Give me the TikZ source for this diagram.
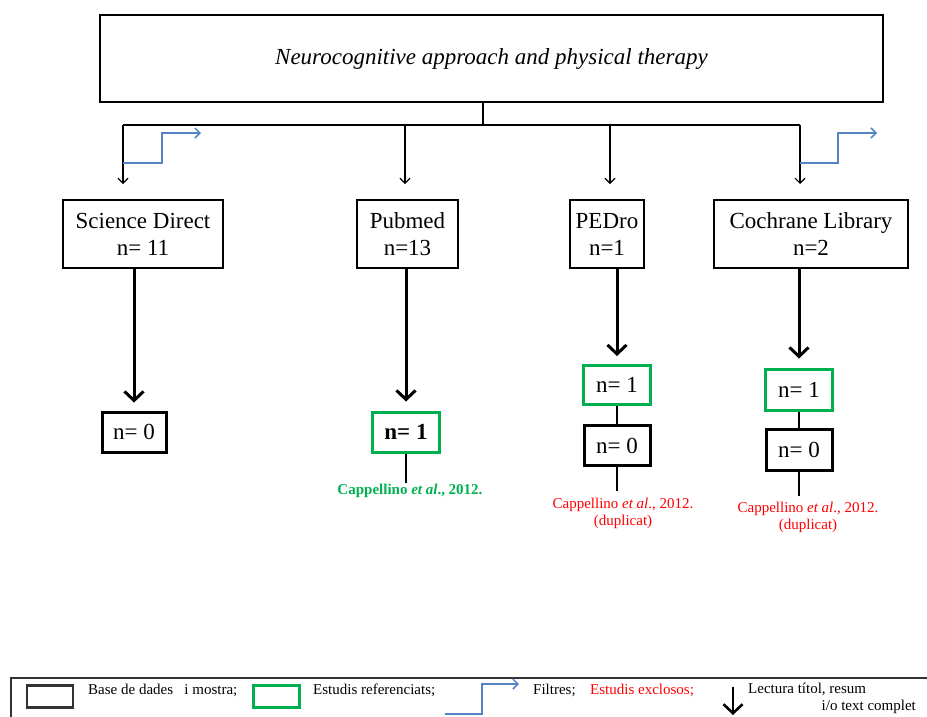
\documentclass[tikz,border=0pt]{standalone}
\usepackage{fontspec}
\setmainfont{Liberation Serif}
\usetikzlibrary{arrows.meta,positioning}

\definecolor{keptgreen}{RGB}{0,176,80}
\definecolor{filterblue}{RGB}{84,132,196}

\begin{document}
\begin{tikzpicture}[x=1pt, y=-1pt, auto,
    dbbox/.style={draw, line width=1.6pt, align=center, inner sep=0pt, minimum height=68pt, font=\fontsize{23}{27}\selectfont},
    keptbox/.style={draw=keptgreen, line width=3pt, inner sep=0pt, minimum width=67pt, minimum height=39pt, font=\fontsize{23}{27}\selectfont},
    nilbox/.style={draw, line width=3pt, inner sep=0pt, minimum width=66pt, minimum height=40pt, font=\fontsize{23}{27}\selectfont},
    search/.style={line width=1.1pt, -{Straight Barb[length=5pt,width=10pt]}},
    reading/.style={line width=3pt, -{Straight Barb[length=9pt,width=19pt]}},
    filter/.style={filterblue, line width=1.5pt, -{Straight Barb[length=5pt,width=10pt]}},
    tail/.style={line width=1.3pt},
    cite/.style={align=center, inner sep=1pt, font=\fontsize{15}{17}\selectfont},
    keytext/.style={anchor=west, inner sep=0pt, font=\fontsize{15}{17}\selectfont}]
    \useasboundingbox (0,0) rectangle (927,716);

    % Nodes
    \node[draw, line width=1.6pt, minimum width=783pt, minimum height=87pt, font=\fontsize{23}{27}\selectfont\itshape] (topic) at (491.5,58.5) {Neurocognitive approach and physical therapy};

    \node[dbbox, minimum width=160pt] (sciencedirect) at (143,234) {Science Direct\\n= 11};
    \node[dbbox, minimum width=101pt] (pubmed) at (407.5,234) {Pubmed\\n=13};
    \node[dbbox, minimum width=74pt] (pedro) at (607,234) {PEDro\\n=1};
    \node[dbbox, minimum width=194pt] (cochrane) at (811,234) {Cochrane Library\\n=2};

    \node[nilbox, minimum width=64pt] (sdzero) at (134,432) {n= 0};
    \node[keptbox, minimum height=40pt, font=\fontsize{23}{27}\selectfont\bfseries] (pubkept) at (406,432) {n= 1};
    \node[keptbox] (pedrokept) at (617,385) {n= 1};
    \node[nilbox] (pedrozero) at (617,445.5) {n= 0};
    \node[keptbox, minimum height=41pt] (cochranekept) at (799,389.5) {n= 1};
    \node[nilbox, minimum height=41pt] (cochranezero) at (799,449.5) {n= 0};

    % Labels
    \node[cite, keptgreen, font=\fontsize{15}{17}\selectfont\bfseries] (pubcite) at (410,491) {Cappellino \textit{et al}., 2012.};
    \node[cite, red] (pedrocite) at (623,513) {Cappellino \textit{et al}., 2012.\\(duplicat)};
    \node[cite, red] (cochranecite) at (808,517) {Cappellino \textit{et al}., 2012.\\(duplicat)};

    % Search tree
    \coordinate (split) at (483,125);
    \coordinate (sdtop) at (123,125);
    \coordinate (pubtop) at (405,125);
    \coordinate (pedrotop) at (610,125);
    \coordinate (cochranetop) at (800,125);
    \draw[line width=1.1pt] (topic.south -| split) -- (split);
    \draw[line width=1.1pt] (sdtop) -- (cochranetop);
    \draw[search] (sdtop) -- ++(0,59);
    \draw[search] (pubtop) -- ++(0,59);
    \draw[search] (pedrotop) -- ++(0,59);
    \draw[search] (cochranetop) -- ++(0,59);

    % Filters
    \coordinate (sdfilter) at (123,163);
    \coordinate (sdout) at (201,133);
    \coordinate (cochranefilter) at (800,163);
    \coordinate (cochraneout) at (877,133);
    \draw[filter] (sdfilter) -- ++(39,0) |- (sdout);
    \draw[filter] (cochranefilter) -- ++(38,0) |- (cochraneout);

    % Reading arrows
    \draw[reading, shorten >=8pt] (sciencedirect.south -| sdzero.north) -- (sdzero.north);
    \draw[reading, shorten >=9pt] (pubmed.south -| pubkept.north) -- (pubkept.north);
    \draw[reading, shorten >=8pt] (pedro.south -| pedrokept.north) -- (pedrokept.north);
    \draw[reading, shorten >=9pt] (cochrane.south -| cochranekept.north) -- (cochranekept.north);

    \draw[tail] (pubkept.south) -- (pubkept.south |- pubcite.north);
    \draw[tail] (pedrokept.south) -- (pedrozero.north);
    \draw[tail, shorten >=6pt] (pedrozero.south) -- (pedrozero.south |- pedrocite.north);
    \draw[tail] (cochranekept.south) -- (cochranezero.north);
    \draw[tail, shorten >=5pt] (cochranezero.south) -- (cochranezero.south |- cochranecite.north);

    % Key
    \draw[line width=1.8pt, black!80] (11,718) |- (930,678);
    \node[draw, line width=2.4pt, black!80, minimum width=46pt, minimum height=22pt] (keydb) at (50,696.5) {};
    \node[keytext] (keydbtext) at (88,690) {Base de dades\ \ \ i mostra;};
    \node[draw=keptgreen, line width=2.4pt, minimum width=46pt, minimum height=22pt] (keykept) at (276.5,696.5) {};
    \node[keytext] (keykepttext) at (313,690) {Estudis referenciats;};
    \coordinate (keyfilter) at (445,714);
    \coordinate (keyfilterout) at (519,684);
    \draw[filter] (keyfilter) -- ++(37,0) |- (keyfilterout);
    \node[keytext] (keyfiltertext) at (533,690) {Filtres;};
    \node[keytext, red] (keyexcluded) at (590,690) {Estudis exclosos;};
    \coordinate (keyreadtop) at (733,687);
    \coordinate (keyreadend) at (733,715);
    \draw[reading, line width=2.6pt] (keyreadtop) -- (keyreadend);
    \node[keytext] (keyreadtext) at (748,689) {Lectura títol, resum};
    \node[keytext, anchor=east] (keyreadmore) at (916,707) {i/o text complet};
\end{tikzpicture}
\end{document}
